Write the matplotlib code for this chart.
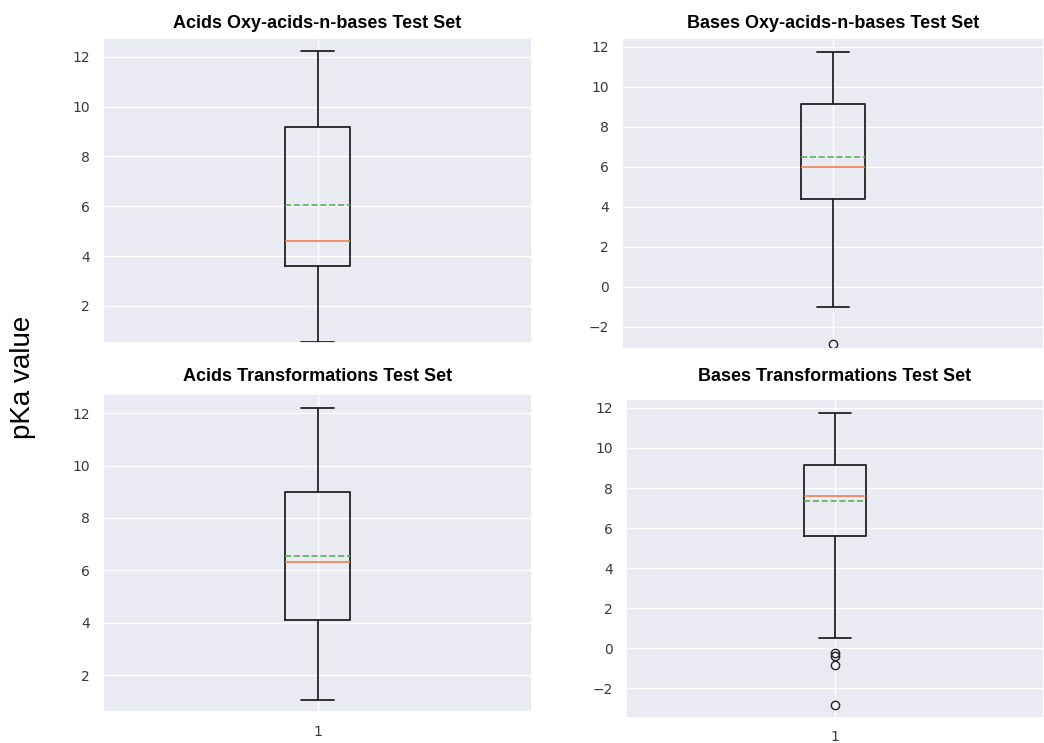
import matplotlib
matplotlib.use("Agg")
import matplotlib.pyplot as plt
import seaborn as sns

sns.set_theme(style="darkgrid")

# pKa test-set summaries
titles = ["Acids Oxy-acids-n-bases Test Set", "Bases Oxy-acids-n-bases Test Set",
          "Acids Transformations Test Set", "Bases Transformations Test Set"]
whislo = [0.55, -1.0, 1.05, 0.5]
q1 = [3.6, 4.4, 4.1, 5.6]
med = [4.62, 6.0, 6.3, 7.6]
mean = [6.05, 6.5, 6.55, 7.35]
q3 = [9.2, 9.15, 9.0, 9.13]
whishi = [12.25, 11.75, 12.2, 11.75]
fliers = [[], [-2.85], [], [-0.25, -0.4, -0.85, -2.85]]

ylims = [(0.51, 12.76), (-3.1, 12.45), (0.59, 12.73), (-3.5, 12.45)]
positions = [[0.0987, 0.5384, 0.4109, 0.4105],
             [0.5958, 0.5303, 0.4042, 0.4186],
             [0.0987, 0.0417, 0.4109, 0.4280],
             [0.5996, 0.0336, 0.4004, 0.4294]]
pads = [7, 7, 9.5, 13]
xpads = [3.5, 3.5, 3.5, 2.5]

fig = plt.figure(figsize=(10.44, 7.43), dpi=100)

for i in range(4):
    ax = fig.add_axes(positions[i])
    stats = [{
        "whislo": whislo[i], "q1": q1[i], "med": med[i], "mean": mean[i],
        "q3": q3[i], "whishi": whishi[i], "fliers": fliers[i],
    }]
    ax.bxp(stats, showmeans=True, meanline=True,
           boxprops=dict(color="#222222", linewidth=1.3),
           whiskerprops=dict(color="#222222", linewidth=1.3),
           capprops=dict(color="#222222", linewidth=1.3),
           flierprops=dict(marker="o", markerfacecolor="none",
                           markeredgecolor="#222222", markersize=6),
           medianprops=dict(color="#EE8050", linewidth=1.2),
           meanprops=dict(color="#5DAE5D", linewidth=1.2, linestyle="--"))
    ax.set_xlim(0.5, 1.5)
    ax.set_ylim(*ylims[i])
    ax.set_xticks([1])
    if i < 2:
        ax.set_xticklabels([""])
    else:
        ax.set_xticklabels(["1"])
    ax.tick_params(labelsize=10, colors="#3a3a3a")
    ax.tick_params(axis="x", pad=xpads[i])
    ax.set_title(titles[i], fontsize=13, fontweight="bold", color="black",
                 family=["Liberation Sans", "DejaVu Sans"], pad=pads[i])

fig.text(0.022, 0.492, "pKa value", rotation=90, fontsize=20, color="black",
         family=["Liberation Sans", "DejaVu Sans"], va="center", ha="center")

fig.savefig("out.png", dpi=100, facecolor="white")
